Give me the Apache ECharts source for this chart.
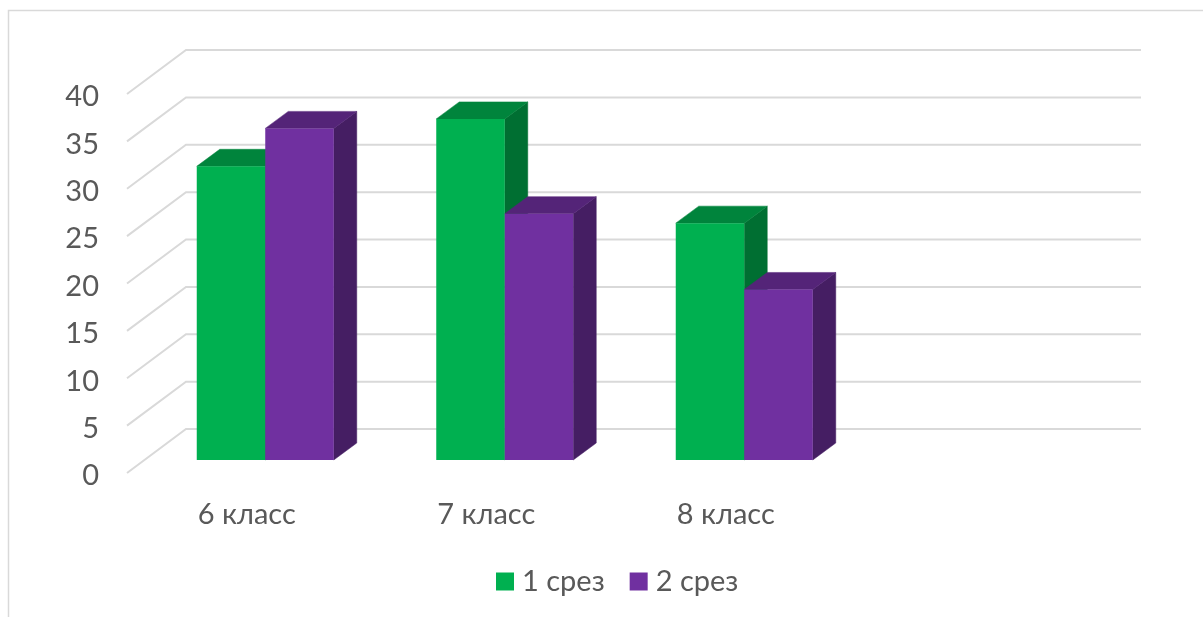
<!DOCTYPE html>
<html>
<head>
<meta charset="utf-8">
<style>
  html, body { margin: 0; padding: 0; background: #fff; }
  #chart { width: 1203px; height: 617px; }
</style>
<script src="https://cdn.jsdelivr.net/npm/echarts@6/dist/echarts.min.js"></script>
</head>
<body>
<div id="chart"></div>
<script>
const categories = ['6 класс', '7 класс', '8 класс', '']
const seriesNames = ['1 срез', '2 срез']
const srez1 = [31, 36, 25]
const srez2 = [35, 26, 18]
const yTicks = [0, 5, 10, 15, 20, 25, 30, 35, 40]

// pseudo 3d: offsets in px from the axis plane
const wallDx = 59
const wallDy = 44
const wallEndDx = 56
const barShiftX = 18.5
const barShiftY = 13
const barDepthX = 23
const barDepthY = 17
const barWidth = 68.5

const textColor = '#595959'
const fontFamily = 'Lato, "Noto Sans", sans-serif'

const chart = echarts.init(document.getElementById('chart'))

const renderWall = (params, api) => {
  const p = api.coord([0, api.value(1)])
  const x0 = params.coordSys.x
  const x1 = x0 + params.coordSys.width
  return {
    type: 'polyline',
    silent: true,
    shape: {
      points: [
        [x0, p[1]],
        [x0 + wallDx, p[1] - wallDy],
        [x1 + wallEndDx, p[1] - wallDy],
      ],
    },
    style: { fill: 'none', stroke: '#d9d9d9', lineWidth: 2 },
  }
}

const makeBarRenderer = (slot, front, top, side) => (params, api) => {
  const i = api.value(0)
  const cx = api.coord([i, 0])[0]
  const y0 = api.coord([i, 0])[1] - barShiftY
  const y1 = api.coord([i, api.value(1)])[1] - barShiftY
  const x0 = cx + barShiftX + (slot - 1) * barWidth
  const x1 = x0 + barWidth
  return {
    type: 'group',
    children: [
      {
        type: 'polygon',
        shape: { points: [[x1, y1], [x1 + barDepthX, y1 - barDepthY], [x1 + barDepthX, y0 - barDepthY], [x1, y0]] },
        style: { fill: side, stroke: side, lineWidth: 0.5 },
      },
      {
        type: 'polygon',
        shape: { points: [[x0, y1], [x0 + barDepthX, y1 - barDepthY], [x1 + barDepthX, y1 - barDepthY], [x1, y1]] },
        style: { fill: top, stroke: top, lineWidth: 0.5 },
      },
      {
        type: 'rect',
        shape: { x: x0, y: y1, width: barWidth, height: y0 - y1 },
        style: { fill: front },
      },
    ],
  }
}

chart.setOption({
  animation: false,
  textStyle: { fontFamily },
  graphic: [
    {
      type: 'polyline',
      silent: true,
      shape: { points: [[8.5, 617], [8.5, 10.5], [1203, 10.5]] },
      style: { fill: 'none', stroke: '#d9d9d9', lineWidth: 1.5 },
    },
  ],
  legend: {
    data: seriesNames,
    left: 496,
    top: 567,
    padding: 0,
    icon: 'rect',
    itemWidth: 18,
    itemHeight: 18,
    itemGap: 25,
    textStyle: { color: textColor, fontSize: 29, padding: [0, 0, 0, 3], fontFamily },
  },
  grid: { left: 127, top: 94, width: 958, height: 379 },
  xAxis: {
    type: 'category',
    data: categories,
    axisLine: { show: false },
    axisTick: { show: false },
    axisLabel: { color: textColor, fontSize: 29, margin: 27, fontFamily },
  },
  yAxis: {
    type: 'value',
    min: 0,
    max: 40,
    interval: 5,
    axisLine: { show: false },
    axisTick: { show: false },
    splitLine: { show: false },
    // labels sit a little below their tick in the original
    axisLabel: { color: textColor, fontSize: 29, margin: 28, verticalAlign: 'top', lineHeight: 6, fontFamily },
  },
  series: [
    {
      type: 'custom',
      name: 'wall',
      silent: true,
      clip: false,
      renderItem: renderWall,
      data: yTicks.map((v) => [0, v]),
    },
    {
      type: 'custom',
      name: seriesNames[0],
      clip: false,
      itemStyle: { color: '#00b050' },
      renderItem: makeBarRenderer(0, '#00b050', '#00843c', '#006f32'),
      data: srez1.map((v, i) => [i, v]),
    },
    {
      type: 'custom',
      name: seriesNames[1],
      clip: false,
      itemStyle: { color: '#7030a0' },
      renderItem: makeBarRenderer(1, '#7030a0', '#542478', '#451e63'),
      data: srez2.map((v, i) => [i, v]),
    },
  ],
})
</script>
</body>
</html>
